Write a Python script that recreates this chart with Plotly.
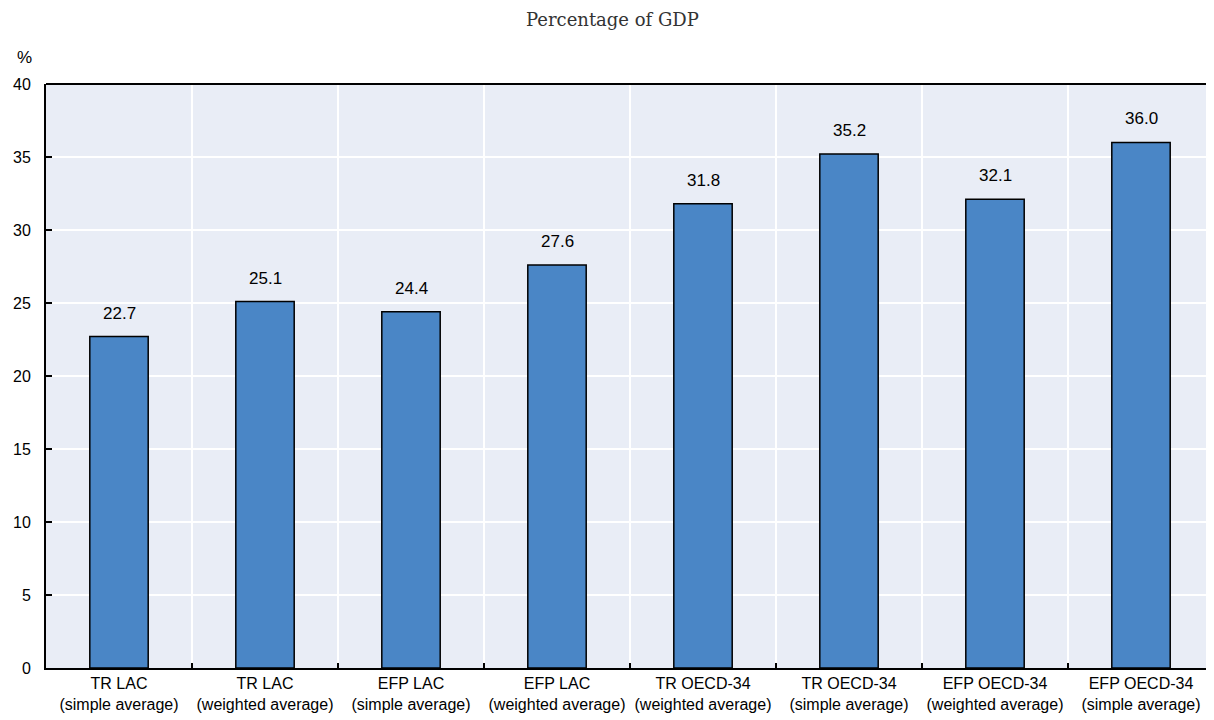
import plotly.graph_objects as go

categories = [
    "TR LAC<br>(simple average)",
    "TR LAC<br>(weighted average)",
    "EFP LAC<br>(simple average)",
    "EFP LAC<br>(weighted average)",
    "TR OECD-34<br>(weighted average)",
    "TR OECD-34<br>(simple average)",
    "EFP OECD-34<br>(weighted average)",
    "EFP OECD-34<br>(simple average)",
]
values = [22.7, 25.1, 24.4, 27.6, 31.8, 35.2, 32.1, 36.0]
y_ticks = [0, 5, 10, 15, 20, 25, 30, 35, 40]

FONT = "Liberation Sans, Arial, sans-serif"

fig = go.Figure()
fig.add_trace(go.Bar(
    x=categories, y=values,
    marker=dict(color="#4A86C6", line=dict(color="black", width=1.5)),
    hoverinfo="x+y",
))

for c, v in zip(categories, values):
    fig.add_annotation(x=c, y=v, text=f"{v:.1f}", showarrow=False,
                       yanchor="bottom", yshift=12,
                       font=dict(family=FONT, size=17, color="black"))

fig.add_annotation(xref="paper", yref="paper", x=-0.018, y=1.0, yshift=15,
                   text="%", showarrow=False, xanchor="center", yanchor="bottom",
                   font=dict(family=FONT, size=17, color="black"))
fig.add_annotation(xref="paper", yref="paper", x=0.485, y=1.0, yshift=52,
                   text="Percentage of GDP", showarrow=False,
                   xanchor="center", yanchor="bottom",
                   font=dict(family="DejaVu Serif, serif", size=18, color="#333333"))

fig.add_shape(type="line", xref="paper", yref="paper", x0=0, x1=1, y0=1, y1=1,
              line=dict(color="black", width=2))

fig.update_layout(
    width=1206, height=712,
    margin=dict(l=38, r=0, t=76, b=52, autoexpand=False),
    paper_bgcolor="white", plot_bgcolor="#E9EDF6",
    bargap=0.6,
    showlegend=False,
    font=dict(family=FONT, size=16, color="black"),
)
fig.update_xaxes(
    type="category", tickson="boundaries", tickangle=0, automargin=False,
    showgrid=True, gridcolor="white", gridwidth=2,
    ticks="inside", ticklen=5, tickcolor="black", tickwidth=2,
    showline=True, linecolor="black", linewidth=2,
    tickfont=dict(family=FONT, size=16),
)
fig.update_yaxes(
    range=[0, 40], tickvals=y_ticks, automargin=False,
    showgrid=True, gridcolor="white", gridwidth=2,
    ticks="inside", ticklen=6, tickcolor="black", tickwidth=2,
    showline=True, linecolor="black", linewidth=2,
    zeroline=False,
    tickfont=dict(family=FONT, size=16),
    ticklabelstandoff=10,
)

fig.write_html("out.html")
